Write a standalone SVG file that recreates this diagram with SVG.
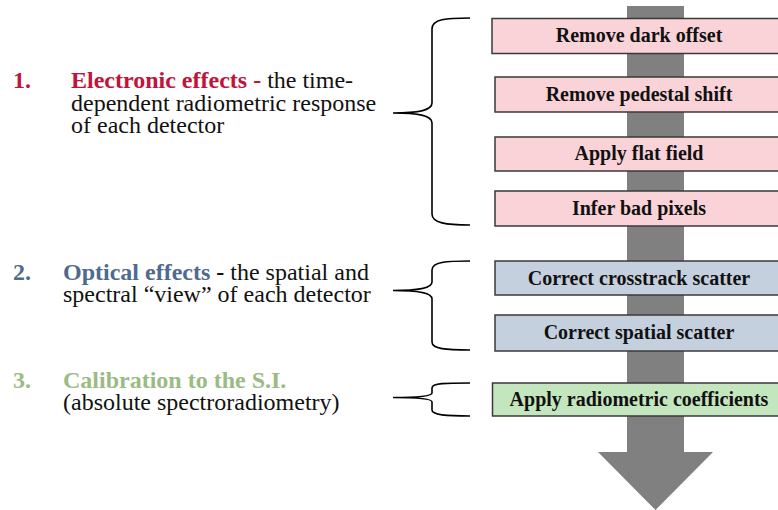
<svg xmlns="http://www.w3.org/2000/svg" width="778" height="510" viewBox="0 0 778 510">
  <style>
    .lbl { font-family: "Liberation Serif", "Times New Roman", serif; font-size: 24px; fill: #111; }
    .b { font-weight: bold; }
    .red { fill: #C0143C; }
    .steel { fill: #4E6A8E; }
    .sage { fill: #9BBB85; }
    .step { font-family: "Liberation Serif", "Times New Roman", serif; font-size: 20px; font-weight: bold; fill: #111; text-anchor: middle; }
    .box { stroke: #3a3a3a; stroke-width: 1.5; }
    .pink { fill: #FAD3D9; }
    .blue { fill: #C5D0DF; }
    .green { fill: #C4E6BE; }
    .brace { fill: none; stroke: #000; stroke-width: 1.6; }
  </style>

  <!-- processing flow arrow -->
  <path id="flow-arrow" d="M627,6 L684,6 L684,452 L713,452 L655.5,510 L598,452 L627,452 Z" fill="#808080"/>

  <!-- category labels -->
  <g id="cat-electronic">
    <text class="lbl b red" x="13" y="88">1.</text>
    <text class="lbl" x="71" y="88"><tspan class="b red">Electronic effects -</tspan> the time-</text>
    <text class="lbl" x="71" y="111">dependent radiometric response</text>
    <text class="lbl" x="71" y="133">of each detector</text>
  </g>
  <g id="cat-optical">
    <text class="lbl b steel" x="13" y="280">2.</text>
    <text class="lbl" x="63" y="280"><tspan class="b steel">Optical effects</tspan><tspan class="b"> -</tspan> the spatial and</text>
    <text class="lbl" x="63" y="302">spectral “view” of each detector</text>
  </g>
  <g id="cat-calibration">
    <text class="lbl b sage" x="13" y="388">3.</text>
    <text class="lbl b sage" x="63" y="388">Calibration to the S.I.</text>
    <text class="lbl" x="63" y="410">(absolute spectroradiometry)</text>
  </g>

  <!-- braces linking categories to steps -->
  <g id="connectors">
    <path class="brace" d="M470,18 C446,18 432,19 432,29 L432,103 C432,110 420,113 393,113 C420,113 432,116 432,123 L432,214 C432,223 446,225 470,225"/>
    <path class="brace" d="M470,261 C446,261 432,262 432,270 L432,282 C432,288 420,290.5 393,290.5 C420,290.5 432,293 432,299 L432,342 C432,349 446,350 470,350"/>
    <path class="brace" d="M470,383 C446,383 432,383 432,388 L432,393 C432,396 420,397.5 393,397.5 C420,397.5 432,399 432,402 L432,410 C432,415 446,416 470,416"/>
  </g>

  <!-- processing steps -->
  <g id="step-dark-offset">
    <rect class="box pink" x="492" y="18.5" width="300" height="35"/>
    <text class="step" x="639" y="42">Remove dark offset</text>
  </g>
  <g id="step-pedestal">
    <rect class="box pink" x="495" y="77" width="300" height="35"/>
    <text class="step" x="639" y="100.5">Remove pedestal shift</text>
  </g>
  <g id="step-flat-field">
    <rect class="box pink" x="495" y="137" width="300" height="34"/>
    <text class="step" x="639" y="160">Apply flat field</text>
  </g>
  <g id="step-bad-pixels">
    <rect class="box pink" x="495" y="191" width="300" height="35"/>
    <text class="step" x="639" y="214.5">Infer bad pixels</text>
  </g>
  <g id="step-crosstrack">
    <rect class="box blue" x="495" y="261" width="300" height="34"/>
    <text class="step" x="639" y="284.5">Correct crosstrack scatter</text>
  </g>
  <g id="step-spatial">
    <rect class="box blue" x="495" y="315" width="300" height="36"/>
    <text class="step" x="639" y="339">Correct spatial scatter</text>
  </g>
  <g id="step-radiometric">
    <rect class="box green" x="492.5" y="383" width="300" height="33"/>
    <text class="step" x="639" y="406">Apply radiometric coefficients</text>
  </g>
</svg>
